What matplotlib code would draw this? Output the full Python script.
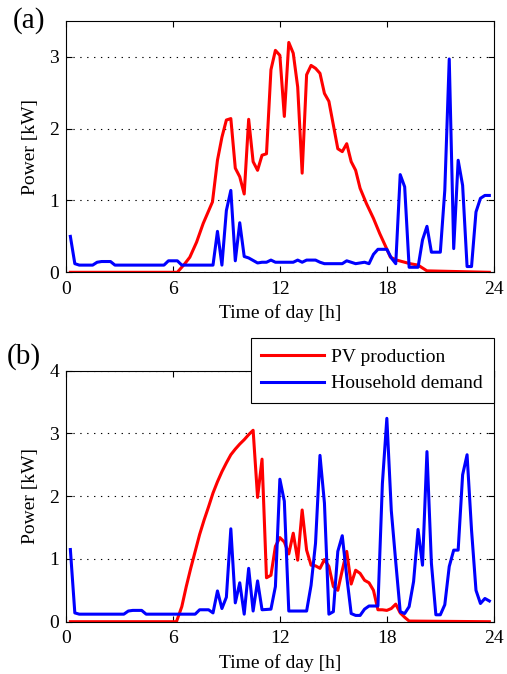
"""PV production vs household demand on two days."""

import matplotlib
matplotlib.use('Agg')
import matplotlib.pyplot as plt

# day (a): PV production
t_a_pv = [0.25, 6.25, 6.67, 6.95, 7.33, 7.7, 8.22,
          8.5, 8.75, 9.0, 9.25, 9.5, 9.75, 10.0, 10.25, 10.5, 10.75, 11.0,
          11.25, 11.5, 11.75, 12.0, 12.25, 12.5, 12.75, 13.0, 13.25, 13.5,
          13.75, 14.0, 14.25, 14.5, 14.75, 15.0, 15.25, 15.5, 15.75, 16.0,
          16.25, 16.5,
          16.85, 17.25, 17.6, 17.95, 18.2, 18.55, 19.3, 19.75, 20.25, 23.75]
pv_a = [0, 0, 0.12, 0.21, 0.42, 0.68, 0.98,
        1.56, 1.88, 2.12, 2.14, 1.45, 1.33, 1.09, 2.13, 1.54, 1.42, 1.63,
        1.65, 2.82, 3.09, 3.02, 2.17, 3.2, 3.05, 2.58, 1.38, 2.75,
        2.88, 2.84, 2.77, 2.49, 2.38, 2.05, 1.72, 1.68, 1.79, 1.54,
        1.42, 1.17,
        0.96, 0.75, 0.54, 0.35, 0.21, 0.17, 0.12, 0.1, 0.02, 0]

# day (a): household demand
t_a_load = [0.25, 0.5, 0.75, 1.5, 1.75, 2.0, 2.5, 2.75, 5.5, 5.75, 6.25, 6.5,
            8.25, 8.5, 8.75, 9.0, 9.25, 9.5, 9.75, 10.0, 10.25, 10.75, 11.0,
            11.25, 11.5, 11.75, 12.75, 13.0, 13.25, 13.5, 14.0, 14.25, 14.5,
            15.5, 15.75, 16.0, 16.25, 16.75, 17.0, 17.25, 17.5, 18.0, 18.25,
            18.5, 18.75, 19.0, 19.25, 19.75, 20.0, 20.25, 20.5, 21.0, 21.25,
            21.5, 21.75, 22.0, 22.25, 22.5, 22.75, 23.0, 23.25, 23.5, 23.75]
load_a = [0.5, 0.12, 0.1, 0.1, 0.14, 0.15, 0.15, 0.1, 0.1, 0.16, 0.16, 0.1,
          0.1, 0.57, 0.1, 0.86, 1.14, 0.16, 0.69, 0.22, 0.2, 0.13, 0.14,
          0.14, 0.17, 0.14, 0.14, 0.17, 0.14, 0.17, 0.17, 0.14, 0.12,
          0.12, 0.16, 0.14, 0.12, 0.14, 0.12, 0.25, 0.32, 0.32, 0.2,
          0.12, 1.36, 1.19, 0.07, 0.07, 0.45, 0.64, 0.28, 0.28, 1.14,
          2.97, 0.33, 1.56, 1.21, 0.08, 0.08, 0.84, 1.03, 1.07, 1.07]

# day (b): PV production
t_b_pv = [0.25, 6.2,
          6.5, 6.75, 7.0, 7.25, 7.5, 7.75, 8.0, 8.25, 8.5, 8.75, 9.0, 9.25,
          9.5, 9.75, 10.0, 10.25, 10.5, 10.75, 11.0, 11.25, 11.5, 11.75, 12.0,
          12.25, 12.5, 12.75, 13.0, 13.25, 13.5, 13.75, 14.0, 14.25, 14.5,
          14.75, 15.0, 15.25, 15.5, 15.75, 16.0, 16.25, 16.5, 16.75, 17.0,
          17.25, 17.5, 17.75, 18.0, 18.25, 18.5, 18.75, 19.0, 19.25,
          23.75]
pv_b = [0, 0,
        0.24, 0.56, 0.85, 1.12, 1.39, 1.62, 1.83, 2.05, 2.23, 2.39, 2.53, 2.66,
        2.75, 2.83, 2.9, 2.98, 3.05, 1.98, 2.59, 0.7, 0.74, 1.2, 1.34,
        1.27, 1.08, 1.41, 0.98, 1.78, 1.14, 0.9, 0.89, 0.85, 0.99,
        0.88, 0.56, 0.5, 0.82, 1.12, 0.6, 0.82, 0.77, 0.66, 0.62,
        0.5, 0.19, 0.19, 0.18, 0.21, 0.28, 0.14, 0.07, 0.01,
        0]

# day (b): household demand
t_b_load = [0.25, 0.5, 0.75, 3.25, 3.5, 3.75, 4.25, 4.5, 7.25, 7.5, 8.0,
            8.25, 8.5, 8.75, 9.0, 9.25, 9.5, 9.75, 10.0, 10.25, 10.5, 10.75,
            11.0, 11.5, 11.75, 12.0, 12.25, 12.5,
            13.5, 13.75, 14.0, 14.25, 14.5, 14.75, 15.0, 15.25, 15.5, 15.75,
            16.0, 16.25, 16.5, 16.75, 17.0,
            17.5, 17.75, 18.0, 18.25, 18.5, 18.75, 19.0, 19.25, 19.5, 19.75,
            20.0, 20.25, 20.5, 20.75, 21.0, 21.25, 21.5, 21.75, 22.0, 22.25,
            22.5, 22.75, 23.0, 23.25, 23.5, 23.75]
load_b = [1.15, 0.14, 0.12, 0.12, 0.17, 0.18, 0.18, 0.12, 0.12, 0.19, 0.19,
          0.14, 0.49, 0.21, 0.39, 1.48, 0.3, 0.62, 0.12, 0.85, 0.17, 0.65,
          0.19, 0.2, 0.56, 2.27, 1.92, 0.17,
          0.17, 0.58, 1.25, 2.65, 1.89, 0.12, 0.16, 1.12, 1.37, 0.72,
          0.13, 0.1, 0.1, 0.2, 0.25,
          0.25, 2.2, 3.24, 1.77, 0.95, 0.16, 0.13, 0.24, 0.64, 1.47,
          0.9, 2.71, 0.93, 0.11, 0.11, 0.27, 0.88, 1.14, 1.14, 2.34,
          2.66, 1.46, 0.5, 0.29, 0.37, 0.33]

x_ticks = [0, 6, 12, 18, 24]

plt.rcParams['font.family'] = ['Liberation Serif', 'DejaVu Serif']
plt.rcParams['font.size'] = 14

fig = plt.figure(figsize=(5.07, 6.74), dpi=100)
ax_a = fig.add_axes([0.130, 0.596, 0.844, 0.373])
ax_b = fig.add_axes([0.130, 0.0776, 0.844, 0.3725])


def style(ax, ymax, yticks):
    ax.set_xlim(0, 24)
    ax.set_ylim(0, ymax)
    ax.set_xticks(x_ticks)
    ax.set_yticks(yticks)
    ax.tick_params(direction='in', top=True, right=True, length=4,
                   width=0.8, labelsize=14)
    ax.tick_params(axis='x', pad=6)
    ax.tick_params(axis='y', pad=5)
    ax.yaxis.grid(True, color='black', linewidth=0.8,
                  linestyle=(0, (1.2, 5)))
    for sp in ax.spines.values():
        sp.set_linewidth(0.8)
    ax.set_xlabel('Time of day [h]', fontsize=14, labelpad=5)
    ax.set_ylabel('Power [kW]', fontsize=14, labelpad=7)


ax_a.plot(t_a_pv, pv_a, color='#ff0000', linewidth=2.2)
ax_a.plot(t_a_load, load_a, color='#0000ff', linewidth=2.2)
style(ax_a, 3.5, [0, 1, 2, 3])

ax_b.plot(t_b_pv, pv_b, color='#ff0000', linewidth=2.2, label='PV production')
ax_b.plot(t_b_load, load_b, color='#0000ff', linewidth=2.2,
          label='Household demand')
style(ax_b, 4, [0, 1, 2, 3, 4])

leg = ax_b.legend(loc='upper right', bbox_to_anchor=(1.0, 1.13),
                  borderaxespad=0, fancybox=False, framealpha=1,
                  edgecolor='black', fontsize=14, handlelength=3.2,
                  handletextpad=0.4, borderpad=0.55, labelspacing=0.44)
leg.get_frame().set_linewidth(0.8)
leg.set_zorder(5)

fig.text(13 / 507, 1 - 21 / 674, '(a)', fontsize=21, va='center', ha='left')
fig.text(7 / 507, 1 - 357 / 674, '(b)', fontsize=21, va='center', ha='left')

fig.savefig('out.png', dpi=100)
